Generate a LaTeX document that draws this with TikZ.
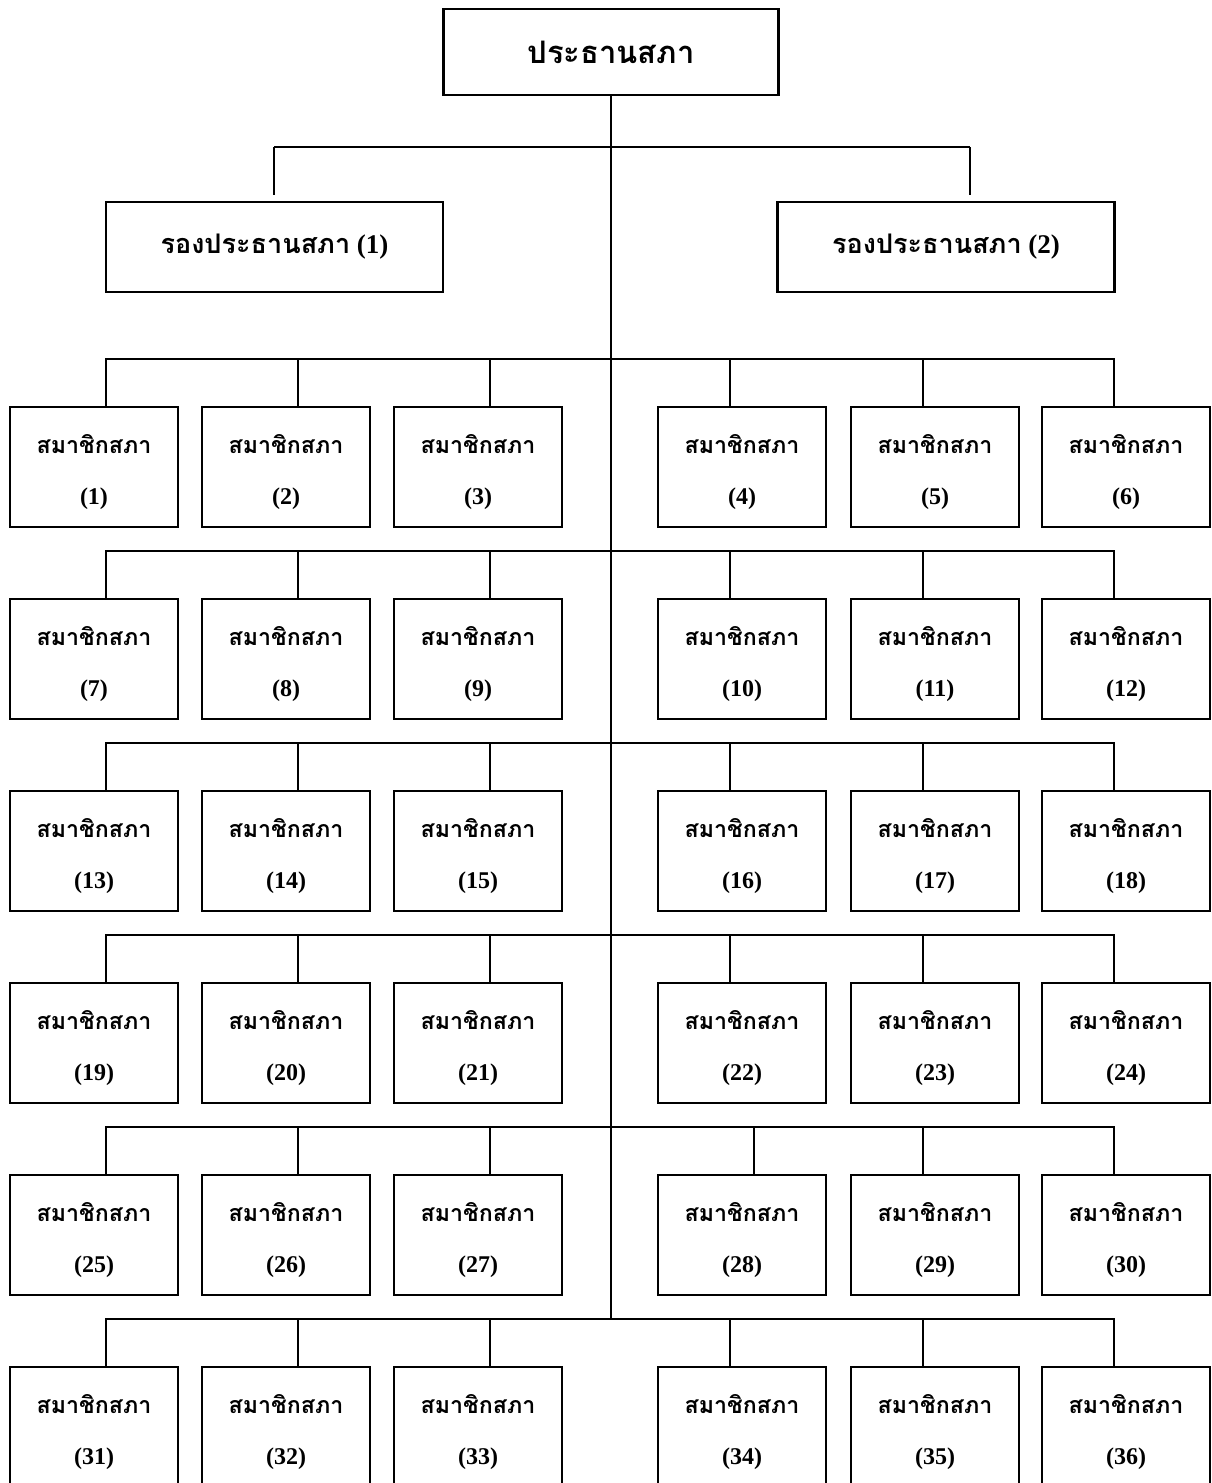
\documentclass[tikz,border=0pt]{standalone}
\usepackage{fontspec}
\setmainfont{Liberation Serif}
\newfontfamily\thaifont[Script=Thai]{Loma}
\usetikzlibrary{positioning, calc}

\begin{document}
\begin{tikzpicture}[
    x=0.5pt, y=-0.5pt,
    line width=0.9pt,
    chief/.style={
      draw, line width=1.1pt,
      minimum width=167.5pt, minimum height=43pt,
      inner sep=0pt, align=center,
      font=\bfseries\fontsize{15.5}{19}\selectfont,
    },
    vice/.style={
      draw, line width=1.1pt,
      minimum width=168.5pt, minimum height=45pt,
      inner sep=0pt, align=center,
      font=\bfseries\fontsize{13.5}{17}\selectfont,
    },
    member/.style={
      draw, line width=1.1pt,
      minimum width=84pt, minimum height=60pt,
      inner sep=0pt, align=center,
      text height=40pt, text depth=3pt,
      font=\bfseries\fontsize{12}{25.5}\selectfont,
    },
  ]
    \useasboundingbox (0,0) rectangle (1211,1483);

    % top of the chart
    \node[chief] (chair) at (611,52) {\thaifont ประธานสภา};
    \node[vice] (vice1) at (274.5,247) {{\thaifont รองประธานสภา} (1)};
    \node[vice] (vice2) at (946,247) {{\thaifont รองประธานสภา} (2)};

    % members, six per row
    \foreach \r in {0,...,5} {
      \foreach \cx [count=\c] in {94,286,478,742,935,1126} {
        \pgfmathtruncatemacro\n{6*\r+\c}
        \node[member] (m\n) at (\cx,467+192*\r)
          {{\thaifont\fontsize{11.6}{25.5}\selectfont สมาชิกสภา}\\(\n)};
      }
    }

    % connectors
    \coordinate (topL) at (274,147);
    \coordinate (topR) at (970,147);
    \draw (topL) -- (topR);
    \draw (topL) -- ($(vice1.north)+(-0.5,-6)$);
    \draw (topR) -- ($(vice2.north)+(24,-6)$);

    \foreach \r in {1,...,6} {
      \coordinate (busL\r) at (106,167+192*\r);
      \coordinate (busR\r) at (1114,167+192*\r);
      \draw (busL\r) -- (busR\r);
    }
    \draw (chair.south) -- (chair.south |- busL6);

    \foreach \n in {1,...,36} {
      \pgfmathsetmacro\off{ifthenelse(or(mod(\n-1,6)<3,\n==28),12,-12)}
      \draw ($(m\n.north)+(\off,0)$) -- ++(0,-48);
    }
\end{tikzpicture}
\end{document}
